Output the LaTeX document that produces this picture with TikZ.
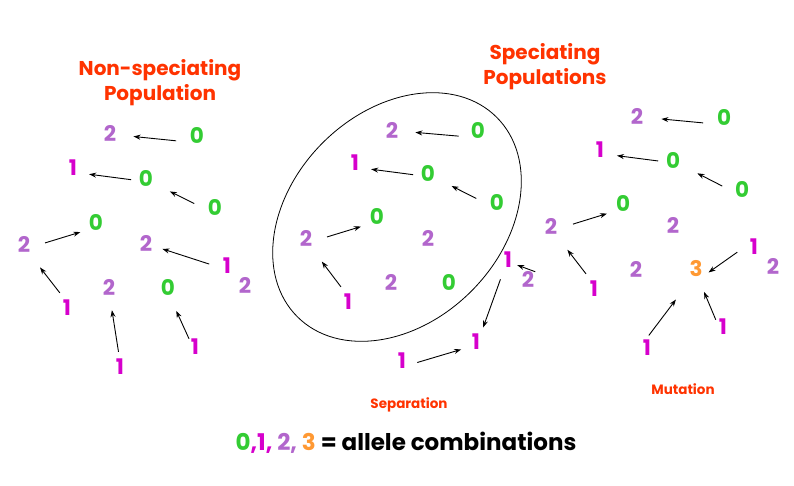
\documentclass[tikz,border=0pt]{standalone}
\usepackage{fontspec}
\setmainfont{Poppins}
\usetikzlibrary{arrows.meta}
\definecolor{grn}{RGB}{51,204,51}
\definecolor{pur}{RGB}{178,102,204}
\definecolor{mag}{RGB}{214,0,204}
\definecolor{org}{RGB}{255,153,51}
\definecolor{ttlred}{RGB}{255,51,0}

\begin{document}
\begin{tikzpicture}[x=1pt,y=-1pt,
  dig/.style={circle,inner sep=0pt,minimum size=20pt,font=\fontsize{21.5}{21.5}\selectfont\bfseries},
  ttl/.style={align=center,text=ttlred,font=\fontsize{20}{25}\selectfont\bfseries},
  tag/.style={text=ttlred,font=\fontsize{13.5}{13.5}\selectfont\bfseries},
  arr/.style={line width=0.9pt,-{Stealth[length=7pt,width=5pt]}}]
  \path[fill=white,use as bounding box] (0,0) rectangle (794,485);
  \node[ttl] (tnon) at (160,83) {Non-speciating\\Population};
  \node[ttl] (tspec) at (545,67) {Speciating\\Populations};
  \foreach \n/\x/\y/\d/\c in {l1/110/133/2/pur,l2/197/135/0/grn,l3/73/168/1/mag,l4/146/178/0/grn,
    l5/215/207/0/grn,l6/96/222/0/grn,l7/24/244/2/pur,l8/146/243/2/pur,l9/227/266/1/mag,
    l10/245/285/2/pur,l11/67/308/1/mag,l12/109/287/2/pur,l13/168/287/0/grn,l14/120/367/1/mag,l15/195/347/1/mag,
    m1/392/130/2/pur,m2/478/130/0/grn,m3/355/163/1/mag,m4/428/173/0/grn,m5/497/202/0/grn,
    m6/377/216/0/grn,m7/306/238/2/pur,m8/428/238/2/pur,m9/348/302/1/mag,m10/391/282/2/pur,
    m11/449/282/0/grn,m12/508/260/1/mag,m13/528/279/2/pur,m14/476/342/1/mag,m15/402/361/1/mag,
    r1/637/116/2/pur,r2/724/117/0/grn,r3/600/150/1/mag,r4/673/160/0/grn,r5/742/189/0/grn,
    r6/623/203/0/grn,r7/551/226/2/pur,r8/673/225/2/pur,r9/754/247/1/mag,r10/773/266/2/pur,
    r11/636/269/2/pur,r12/696/269/3/org,r13/594/289/1/mag,r14/723/327/1/mag,r15/647/348/1/mag}
    \node[dig,text=\c] (\n) at (\x,\y) {\d};
  \foreach \s/\a/\ls/\t/\b/\lt in {l2/221/12.7pt/l1/348/13.5pt,l4/192/4.3pt/l3/329/7.5pt,
    l5/188/11.2pt/l4/326/16.6pt,l7/347/11.6pt/l6/225/8.4pt,l9/183/8pt/l8/339/7.1pt,
    l11/107/6.8pt/l7/298/18.2pt,l14/94/5pt/l12/275/13.1pt,l15/126/0pt/l13/282/14.5pt,
    m2/221/11.3pt/m1/353/13.2pt,m4/192/4.3pt/m3/329/7.5pt,m5/188/11.2pt/m4/328/16.1pt,
    m7/347/11.6pt/m6/227/9.1pt,m9/107/6.8pt/m7/298/18.2pt,m13/45/0pt/m12/331/0.3pt,
    m12/247/10.6pt/m14/60/6.1pt,m15/342/5.8pt/m14/213/6.6pt,
    r2/221/12.7pt/r1/351/14.3pt,r4/188/4.1pt/r3/333/7.9pt,r5/189/10.2pt/r4/329/16.9pt,
    r7/350/12.4pt/r6/227/9.1pt,r13/111/7.1pt/r7/299/18.7pt,r9/183/8pt/r12/323/5pt,
    r14/135/0pt/r12/285/13.8pt,r15/90/3pt/r12/246/26.2pt}
    \draw[arr,shorten <=\ls,shorten >=\lt] (\s.\a) -- (\t.\b);
  \draw[line width=0.8pt,shift={(397,217)},rotate=45] (0,0) ellipse [x radius=141pt,y radius=105pt];
  \node[tag] (sep) at (409,405) {Separation};
  \node[tag] (mut) at (683,389) {Mutation};
  \node[font=\fontsize{23}{23}\selectfont\bfseries] (leg) at (406,443)
    {\textcolor{grn}{0}\textcolor{mag}{,1,} \textcolor{pur}{2,} \textcolor{org}{3} = allele combinations};
\end{tikzpicture}
\end{document}
